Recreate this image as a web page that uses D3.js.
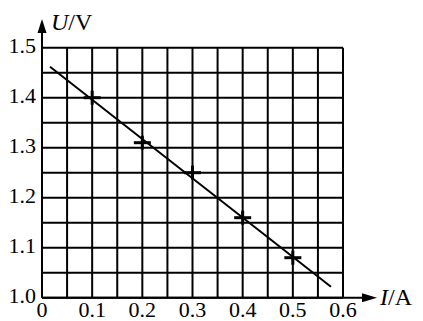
<!DOCTYPE html>
<html lang="en">
<head>
<meta charset="utf-8">
<title>U-I chart</title>
<script src="https://d3js.org/d3.v7.min.js"></script>
<style>
  body { margin: 0; background: #fff; }
  text { font-family: "Liberation Serif", "Times New Roman", serif; fill: #000; }
</style>
</head>
<body>
<script>
// data
var xTicks = [0, 0.1, 0.2, 0.3, 0.4, 0.5, 0.6];
var yTicks = [1.0, 1.1, 1.2, 1.3, 1.4, 1.5];
var pointI = [0.1, 0.2, 0.3, 0.4, 0.5];
var pointU = [1.40, 1.31, 1.25, 1.16, 1.08];
var fitI = [0.016, 0.576];
var fitU = [1.462, 1.022];

var width = 423, height = 321;

var svg = d3.select("body").append("svg")
    .attr("width", width)
    .attr("height", height);

var x = d3.scaleLinear().domain([0, 0.6]).range([42, 343]);
var y = d3.scaleLinear().domain([1.0, 1.5]).range([297.7, 47.7]);

// grid, every 0.05
var grid = svg.append("g").attr("stroke", "#000").attr("stroke-width", 2);
grid.selectAll(".gx")
  .data(x.ticks(12))
  .enter().append("line")
    .attr("x1", d => x(d)).attr("x2", d => x(d))
    .attr("y1", y(1.5)).attr("y2", y(1.0));
grid.selectAll(".gy")
  .data(y.ticks(10))
  .enter().append("line")
    .attr("x1", x(0)).attr("x2", x(0.6))
    .attr("y1", d => y(d)).attr("y2", d => y(d));

// axes with arrows
var axes = svg.append("g").attr("stroke", "#000").attr("stroke-width", 2);
axes.append("line")
    .attr("x1", x(0)).attr("x2", x(0))
    .attr("y1", y(1.0)).attr("y2", 30);
axes.append("line")
    .attr("x1", x(0)).attr("x2", 365)
    .attr("y1", y(1.0)).attr("y2", y(1.0));

svg.append("path")
    .attr("d", d3.line()([[x(0) - 4.5, 33], [x(0), 19], [x(0) + 4.5, 33]]))
    .attr("fill", "#000");
svg.append("path")
    .attr("d", d3.line()([[362, y(1.0) - 4.5], [377, y(1.0)], [362, y(1.0) + 4.5]]))
    .attr("fill", "#000");

// tick labels
svg.selectAll(".ylab")
  .data(yTicks)
  .enter().append("text")
    .attr("x", 36)
    .attr("y", d => y(d) + 5)
    .attr("text-anchor", "end")
    .attr("font-size", 22)
    .text(d => d.toFixed(1));

svg.selectAll(".xlab")
  .data(xTicks)
  .enter().append("text")
    .attr("x", d => x(d))
    .attr("y", 317)
    .attr("text-anchor", "middle")
    .attr("font-size", 22)
    .text(d => d === 0 ? "0" : d.toFixed(1));

// axis titles
var ut = svg.append("text").attr("x", 51).attr("y", 30).attr("font-size", 24);
ut.append("tspan").attr("font-style", "italic").text("U");
ut.append("tspan").text("/V");

var it = svg.append("text").attr("x", 380).attr("y", 305).attr("font-size", 24);
it.append("tspan").attr("font-style", "italic").text("I");
it.append("tspan").text("/A");

// fitted line
svg.append("path")
    .attr("d", d3.line().x(d => x(d[0])).y(d => y(d[1]))(d3.zip(fitI, fitU)))
    .attr("stroke", "#000")
    .attr("stroke-width", 2)
    .attr("fill", "none");

// measured points as crosses
var pts = svg.selectAll(".pt")
  .data(d3.zip(pointI, pointU))
  .enter().append("g")
    .attr("transform", d => "translate(" + x(d[0]) + "," + y(d[1]) + ")")
    .attr("stroke", "#000")
    .attr("stroke-width", 3);
pts.append("line").attr("x1", -8.5).attr("x2", 8.5).attr("y1", 0).attr("y2", 0);
pts.append("line").attr("x1", 0).attr("x2", 0).attr("y1", -7).attr("y2", 7);
</script>
</body>
</html>
